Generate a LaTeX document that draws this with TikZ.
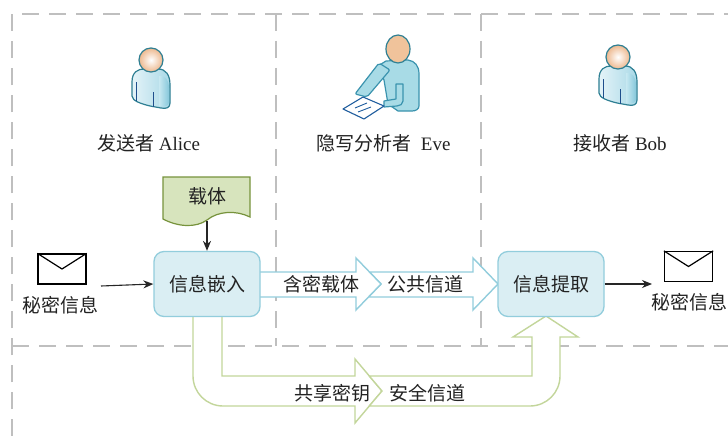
\documentclass[tikz,border=0pt]{standalone}
\usepackage{fontspec}
\setmainfont{Liberation Serif}
\newfontfamily\cjk{Noto Sans CJK SC}
\usetikzlibrary{arrows.meta,calc}

\definecolor{framegray}{HTML}{BFBFBF}
\definecolor{boxfill}{HTML}{DAEEF3}
\definecolor{boxline}{HTML}{92CDDC}
\definecolor{docfill}{HTML}{D7E4BD}
\definecolor{docline}{HTML}{77933C}
\definecolor{keyline}{HTML}{C3D69B}
\definecolor{txt}{HTML}{222222}
\definecolor{usrline}{HTML}{2E7F93}
\definecolor{bodyL}{HTML}{E4F3F8}
\definecolor{bodyR}{HTML}{A9D9E7}
\definecolor{armL}{HTML}{C7E8F1}
\definecolor{armR}{HTML}{86C8DB}
\definecolor{headC}{HTML}{EDB88E}
\definecolor{stripe}{HTML}{1F4E8C}
\definecolor{evebody}{HTML}{A8DBE6}
\definecolor{eveline}{HTML}{3A93AE}
\definecolor{evehead}{HTML}{F0C39B}
\definecolor{paperline}{HTML}{1F5D9E}

\tikzset{
  frame/.style={draw=framegray, line width=2pt, dash pattern=on 17pt off 10pt},
  procbox/.style={rounded corners=10pt, minimum width=106pt, minimum height=65pt,
    fill=boxfill, draw=boxline, line width=1.3pt, inner sep=0pt,
    font=\cjk\fontsize{19}{22}\selectfont, text=txt},
  cjklbl/.style={font=\cjk\fontsize{19}{22}\selectfont, text=txt, inner sep=0pt},
  lbl/.style={font=\fontsize{19}{22}\selectfont, text=txt, inner sep=0pt},
  envbox/.style={draw=black, line width=1.3pt, minimum width=48pt, minimum height=30pt, inner sep=0pt},
  conn/.style={draw=black!85, line width=1.1pt, -{Stealth[length=10pt,width=8pt]}},
  bluearrow/.style={draw=boxline, line width=1.4pt, fill=white, line join=miter},
  greenarrow/.style={draw=keyline, line width=1.4pt, fill=white, line join=miter},
  pics/user/.style={code={
    % bust
    \path[draw=usrline, line width=1.2pt, left color=bodyL, right color=bodyR]
      (-19,36) -- (-19,22) .. controls (-19,12) and (-13,9) .. (-7,9) -- (7,9)
      .. controls (15,9) and (19,15) .. (19,25) -- (19,43)
      .. controls (19,48) and (15,49) .. (10,48) -- (-1,46)
      .. controls (-9,44) and (-19,41) .. (-19,36) -- cycle;
    % shaded sleeve
    \path[left color=armL, right color=armR]
      (8,16) .. controls (14,15) and (18,20) .. (18,28) -- (18,42)
      .. controls (18,46) and (14,47) .. (10,46) -- (8,46) -- cycle;
    \draw[stripe, line width=1pt] (-15,22) -- (-15,41) (2,32) -- (2,47);
    % head
    \path[draw=usrline, line width=1.2pt, inner color=white, outer color=headC]
      (0,0) circle (12);
  }}
}

\begin{document}
\begin{tikzpicture}[x=1pt, y=-1pt]
\useasboundingbox (0,0) rectangle (728,436);
\fill[white] (0,0) rectangle (728,436);

% swim-lane frame
\draw[frame] (12,436) -- (12,14) -- (728,14);
\draw[frame] (12,346) -- (728,346);
\draw[frame] (276,14) -- (276,346);
\draw[frame] (481,14) -- (481,346);

% participants
\pic at (151,60) {user};
\pic at (618,57) {user};

% analyst with a sheet of paper
\path[draw=eveline, fill=evebody, line width=1.2pt, line join=round]
  (378,66) -- (386,61) -- (408,60) .. controls (415,61) and (419,66) .. (419,74)
  -- (419,106) .. controls (419,109) and (416,111) .. (412,111) -- (398,111)
  -- (388,104) -- (384,80) -- cycle;
\path[draw=eveline, fill=evebody, line width=1.2pt, line join=round]
  (396,84) -- (403,84) -- (403,101) .. controls (403,104) and (400,106) .. (397,106)
  -- (384,107) -- (384,101) -- (396,99) -- cycle;
\path[draw=eveline, fill=evebody, line width=1.2pt, rounded corners=2pt]
  (379,63) -- (390,70) -- (367,97) -- (355,94) -- cycle;
\path[draw=usrline, fill=evehead, line width=1.2pt] (398,49) ellipse (12 and 14);
\draw[paperline, fill=white, line width=1.1pt, line join=round]
  (343,109) -- (363,97) -- (384,106) -- (364,119) -- cycle;
\draw[paperline, line width=0.9pt] (355,108) -- (367,103) (358,112) -- (371,107);

\node[lbl] (alice) at (148.5,143) {{\cjk 发送者} Alice};
\node[lbl] (eve) at (383.5,143) {{\cjk 隐写分析者}\ \ Eve};
\node[lbl] (bob) at (620,143) {{\cjk 接收者} Bob};

% public channel: stego object
\draw[bluearrow] (369.5,272) -- (473,272) -- (473,258) -- (498,284) -- (473,310)
  -- (473,297) -- (368.5,297) -- (381,284) -- cycle;
\draw[bluearrow] (250,272) -- (356,272) -- (356,258) -- (381,284) -- (356,310)
  -- (356,297) -- (250,297);

% secure channel: shared key
\draw[greenarrow] (222,300) -- (222,376) -- (355,376) -- (355,359) -- (382,391)
  -- (355,423) -- (355,406) -- (223,406) .. controls (206.4,406) and (193,392.6) .. (193,376)
  -- (193,300);
\draw[greenarrow] (369.3,376) -- (532,376) -- (532,337) -- (513,337) -- (546,316)
  -- (578,337) -- (560,337) -- (560,376) .. controls (560,392.6) and (546.6,406) .. (530,406)
  -- (369.3,406) -- (382,391) -- cycle;

% processing steps
\node[procbox] (embed) at (207,284) {信息嵌入};
\node[procbox] (extract) at (551,284) {信息提取};

% cover object
\path[draw=docline, fill=docfill, line width=1.2pt]
  (163,177) -- (250,177) -- (250,217)
  .. controls (236,210) and (218,211) .. (207,220)
  .. controls (196,228) and (178,227) .. (163,219) -- cycle;
\node[cjklbl] (carrier) at (207,196) {载体};
\coordinate (carrierbot) at (207,221);
\draw[conn] (carrierbot) -- (embed.north);

% secret message in and out
\node[envbox] (envL) at (62,269) {};
\draw[black, line width=1.2pt] (envL.north west) -- (envL.center) -- (envL.north east);
\node[cjklbl] (msgL) at (61,305) {秘密信息};
\coordinate (msgLout) at (101,286);
\draw[conn] (msgLout) -- (embed.west);

\node[envbox] (envR) at (688.5,266.5) {};
\draw[black, line width=1.2pt] (envR.north west) -- (envR.center) -- (envR.north east);
\node[cjklbl] (msgR) at (689,302) {秘密信息};
\coordinate (msgRin) at (652,284);
\draw[conn] (extract.east) -- (msgRin);

% channel labels
\node[cjklbl] (stego) at (321,284) {含密载体};
\node[cjklbl] (pub) at (425,284) {公共信道};
\node[cjklbl] (key) at (332,393) {共享密钥};
\node[cjklbl] (sec) at (427,393) {安全信道};
\end{tikzpicture}
\end{document}
